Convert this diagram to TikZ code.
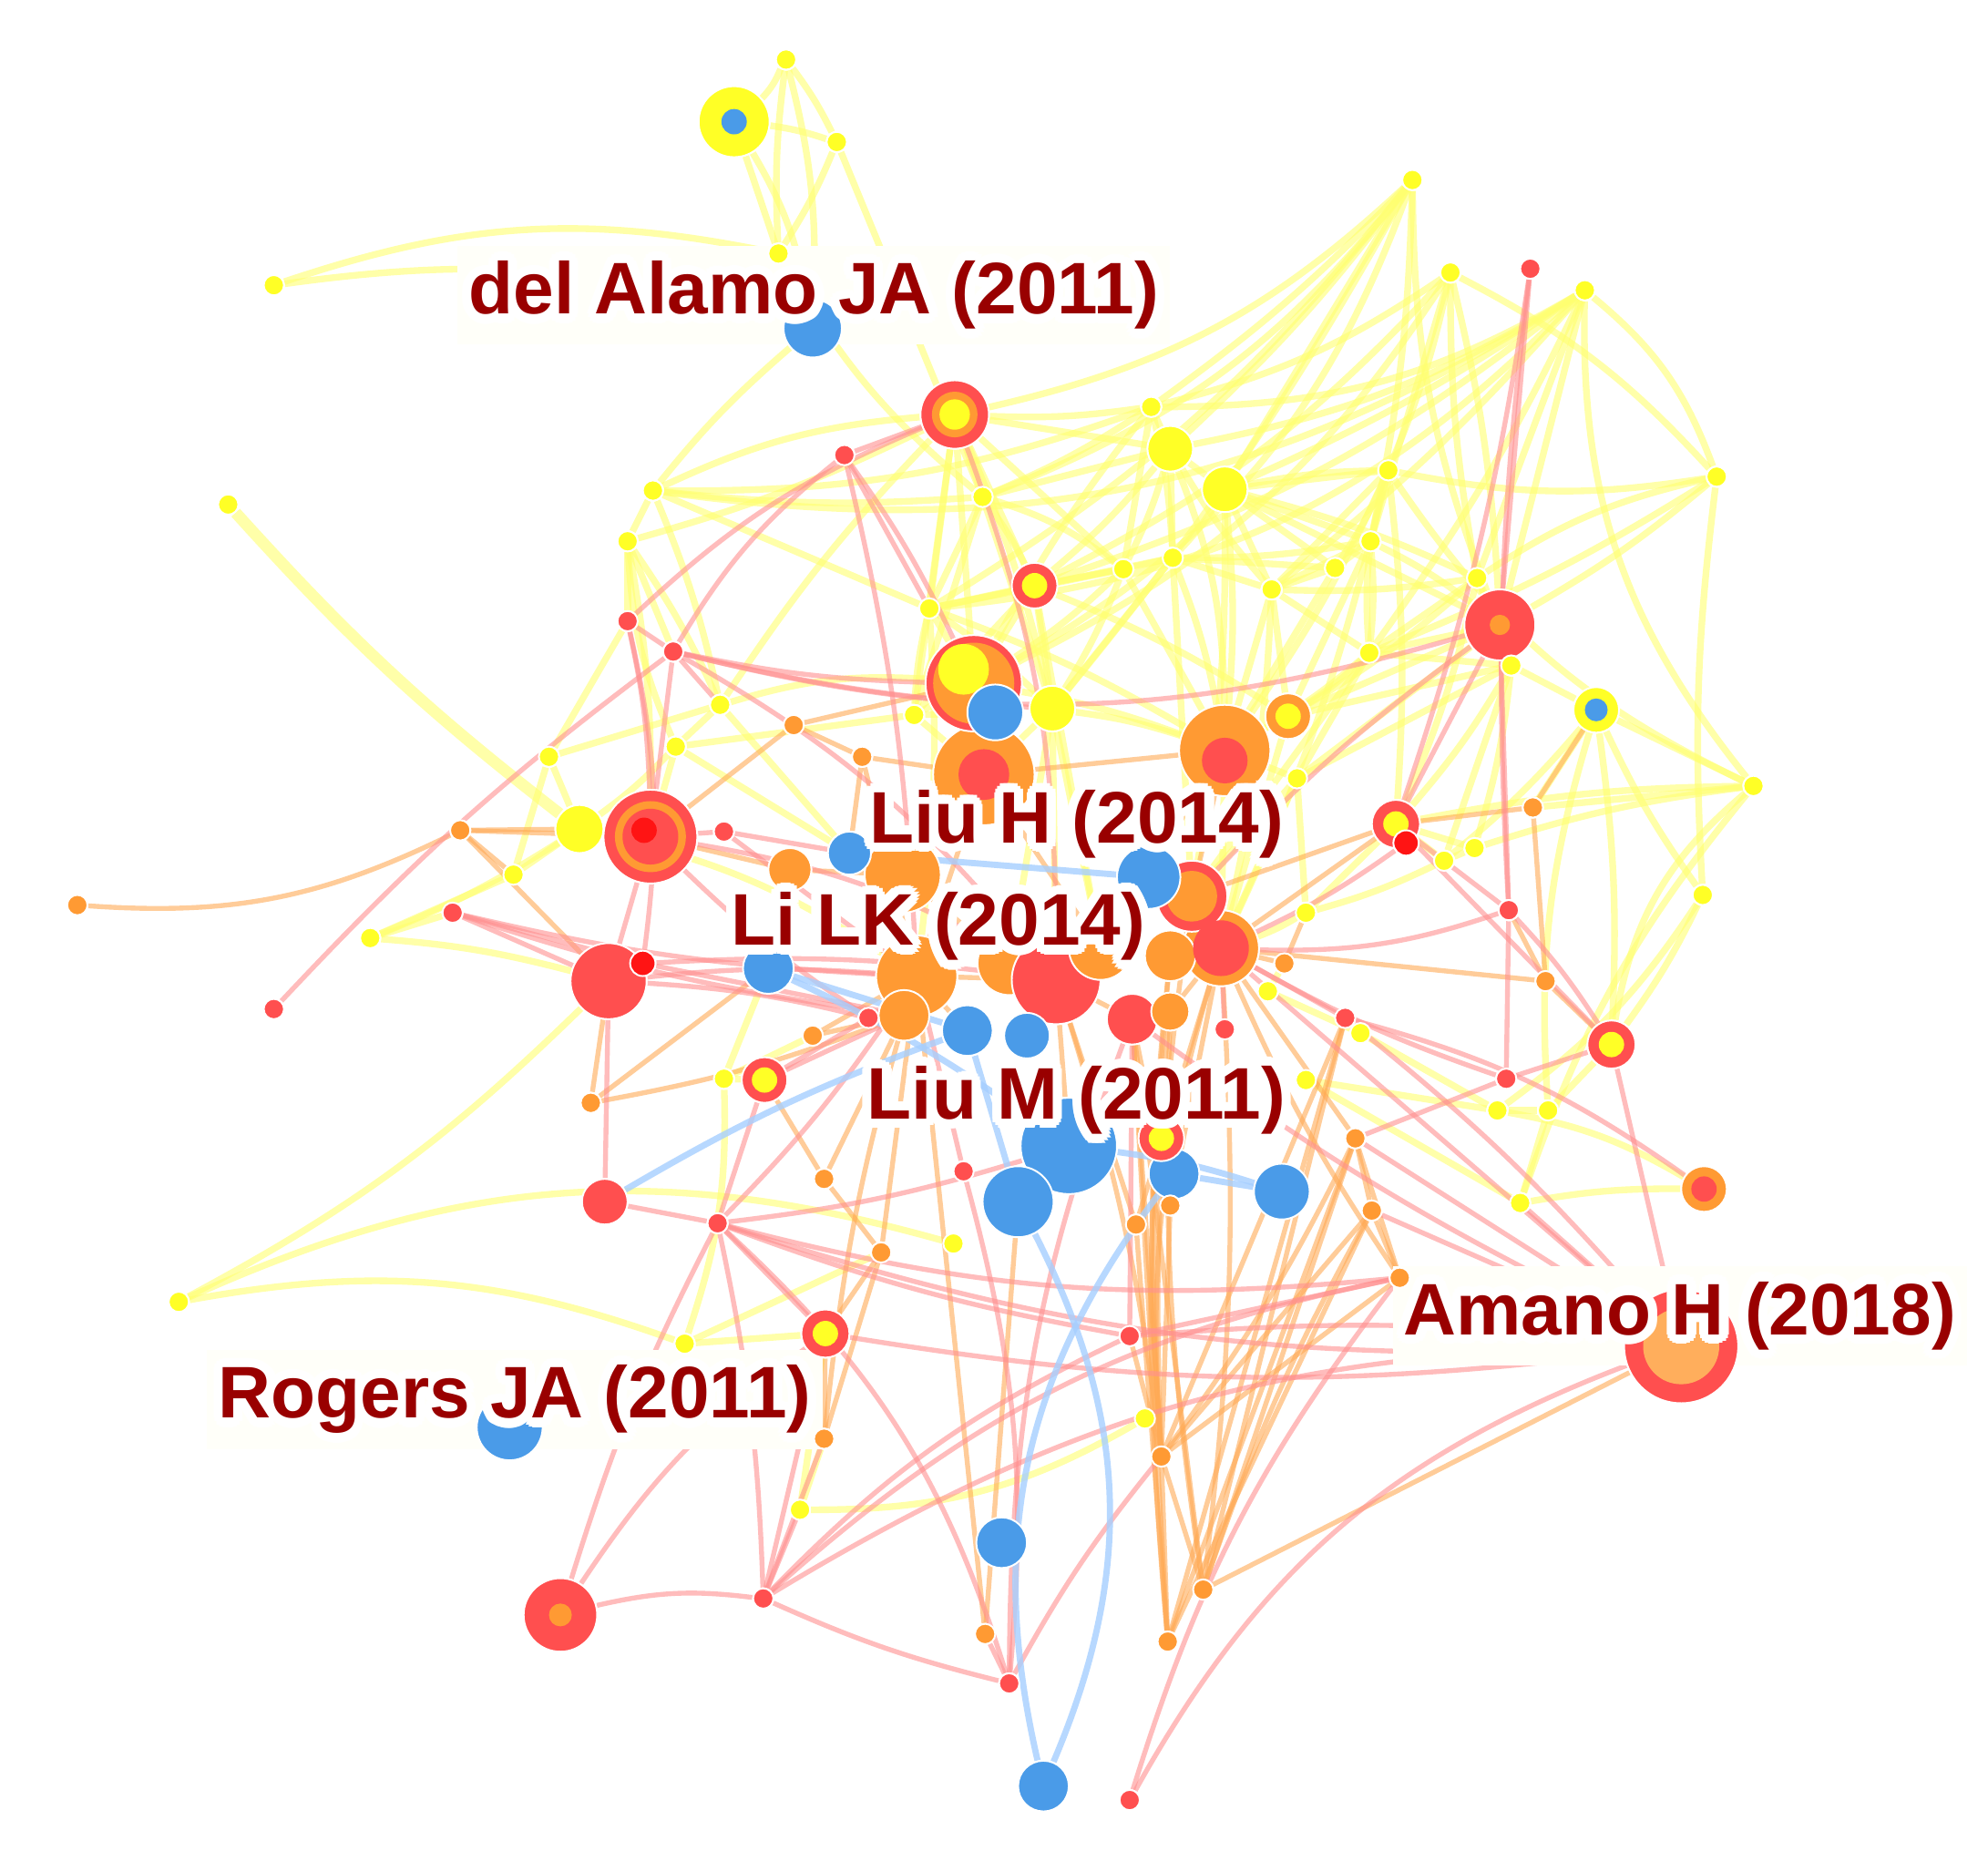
\documentclass[tikz,border=0pt]{standalone}
\usepackage{fontspec}
\setmainfont{Liberation Sans}
\newfontfamily\halofont[Color=FFFFFF]{Liberation Sans}
\newfontfamily\lblfont[Color=990000]{Liberation Sans}
\pgfdeclarelayer{edges}
\pgfsetlayers{edges,main}
\definecolor{Y}{HTML}{FFFF26}
\definecolor{R}{HTML}{FF4F4F}
\definecolor{RR}{HTML}{FF1414}
\definecolor{O}{HTML}{FF9A33}
\definecolor{B}{HTML}{4A9BE8}
\definecolor{EY}{HTML}{FFFF70}
\definecolor{ER}{HTML}{FF9090}
\definecolor{EO}{HTML}{FFAA55}
\definecolor{EB}{HTML}{A6CFFF}
\definecolor{lblbg}{HTML}{FFFFF9}
\newsavebox\halobox
\newcommand\halotext[1]{%
  \sbox\halobox{\halofont\bfseries #1}%
  \foreach \hr in {1,2.1}{%
  \foreach \hang in {0,22.5,...,337.5}{%
    \pgfmathsetlengthmacro\hx{\hr pt*cos(\hang)}%
    \pgfmathsetlengthmacro\hy{\hr pt*sin(\hang)}%
    \rlap{\hspace*{\hx}\raisebox{\hy}{\usebox\halobox}}%
  }}%
  {\lblfont\bfseries #1}%
}
\tikzset{
  dot/.style={circle,inner sep=0pt,draw=white,line width=0.4pt},
  ys/.style={dot,fill=Y,minimum size=1.6mm},
  rs/.style={dot,fill=R,minimum size=1.6mm},
  os/.style={dot,fill=O,minimum size=1.6mm},
  ye/.style={draw=EY,line width=1.5pt,opacity=0.6},
  re/.style={draw=ER,line width=1.1pt,opacity=0.6},
  oe/.style={draw=EO,line width=1.1pt,opacity=0.6},
  be/.style={draw=EB,line width=1.4pt,opacity=0.8},
  lab/.style={inner sep=0pt,font=\fontsize{16.4}{18}\selectfont}
}
\begin{document}
\begin{tikzpicture}[x=0.1mm,y=-0.1mm]
\useasboundingbox (0,0) rectangle (1568,1468);
\begin{pgfonlayer}{edges}
\fill[white] (0,0) rectangle (1568,1468);
\end{pgfonlayer}

% ---- central background cluster
\node[dot,fill=O,minimum size=8mm] (R18) at (776,611) {}; \fill[R] (R18.center) circle (2mm);
\node[dot,fill=R,minimum size=7.6mm] (R16) at (768,539) {}; \fill[O] (R16.center) circle (3.2mm); \fill[Y] (760,528) circle (2mm);
\node[dot,fill=O,minimum size=7.2mm] (R17) at (966,592) {}; \fill[R] (966,600) circle (1.8mm);
\foreach \n/\x/\y/\d/\c in {C13/712/690/60/O, C11/796/760/50/O, C1/723/770/64/O, C2/833/773/70/R, C3/868/748/50/O, C4/963/748/60/O, C5/923/754/40/O, C6/940/707/56/R, C7/713/801/40/O, C8/893/804/40/R, C9/923/798/30/O, C12/623/686/34/O}
  \node[dot,fill=\c,minimum size=\d*0.1mm] (\n) at (\x,\y) {};
\fill[R] (C4.center) circle (2.2mm);
\fill[O] (C6.center) circle (2mm);

% ---- blue nodes
\foreach \n/\x/\y/\d in {b1/641/259/46, b2/790/1217/40, b3/823/1409/40, b4/402/1126/52, b5/670/673/34, b6/606/764/40, b7/906/692/50, b8/763/813/40, b9/810/817/36, b10/843/904/76, b11/803/948/56, b12/926/926/40, b13/1011/940/44, b14/785/562/44}
  \node[dot,fill=B,minimum size=\d*0.1mm] (\n) at (\x,\y) {};

% ---- ringed nodes
\node[dot,fill=Y,minimum size=5.6mm] (R1) at (579,96) {}; \fill[B] (R1.center) circle (1mm);
\node[dot,fill=R,minimum size=5.4mm] (R2) at (753,327) {}; \fill[O] (R2.center) circle (1.8mm); \fill[Y] (R2.center) circle (1.2mm);
\node[dot,fill=R,minimum size=3.6mm] (R3) at (816,462) {}; \fill[Y] (R3.center) circle (1mm);
\node[dot,fill=R,minimum size=5.6mm] (R4) at (1183,493) {}; \fill[O] (R4.center) circle (0.8mm);
\node[dot,fill=Y,minimum size=3.6mm] (R5) at (1259,560) {}; \fill[B] (R5.center) circle (0.9mm);
\node[dot,fill=R,minimum size=3.8mm] (R6) at (1101,650) {}; \fill[Y] (R6.center) circle (1mm);
\node[dot,fill=R,minimum size=3.8mm] (R7) at (1271,824) {}; \fill[Y] (R7.center) circle (1mm);
\node[dot,fill=O,minimum size=3.6mm] (R8) at (1344,938) {}; \fill[R] (R8.center) circle (1mm);
\node[dot,fill=R,minimum size=3.8mm] (R9) at (651,1052) {}; \fill[Y] (R9.center) circle (1mm);
\node[dot,fill=R,minimum size=3.6mm] (R10) at (603,852) {}; \fill[Y] (R10.center) circle (1mm);
\node[dot,fill=R,minimum size=7.4mm] (R11) at (513,660) {}; \fill[O] (R11.center) circle (2.8mm); \fill[R] (R11.center) circle (2.2mm); \fill[RR] (508,655) circle (1mm);
\node[dot,fill=R,minimum size=6mm] (R12) at (480,774) {};
\node[dot,fill=R,minimum size=3.6mm] (R13) at (477,948) {};
\node[dot,fill=R,minimum size=5.8mm] (R14) at (442,1274) {}; \fill[O] (R14.center) circle (0.9mm);
\node[dot,fill=R,minimum size=9mm] (R15) at (1326,1062) {}; \fill[O!80] (R15.center) circle (3mm);
\node[dot,fill=O,minimum size=3.6mm] (R19) at (1016,565) {}; \fill[Y] (R19.center) circle (1mm);
\node[dot,fill=R,minimum size=3.6mm] (C10) at (916,898) {}; \fill[Y] (C10.center) circle (1mm);

% ---- big yellow
\foreach \n/\x/\y/\d in {Y1/923/354/36, Y2/966/386/36, Y3/457/654/38, Y4/830/559/36}
  \node[dot,fill=Y,minimum size=\d*0.1mm] (\n) at (\x,\y) {};

% ---- small nodes
\foreach \n/\x/\y in {y1/620/47, y2/660/112, y3/614/200, y4/216/225, y5/180/398, y6/515/387, y7/495/427, y8/1114/142, y9/1144/215, y10/1250/229, y11/908/321, y12/1354/376, y13/1095/371, y14/1081/427, y15/1053/448, y16/1165/456, y17/775/392, y18/925/440, y19/886/449, y20/1003/465, y21/733/480, y22/1080/515, y23/1192/525, y24/1383/620, y25/1163/669, y26/1139/679, y27/1343/706, y28/1073/815, y29/1181/876, y30/1221/876, y31/1199/949, y32/433/597, y33/405/690, y34/292/740, y35/141/1027, y36/540/1060, y37/631/1191, y38/903/1119, y39/752/981, y40/568/556, y41/533/589, y42/721/564, y43/571/851, y44/1000/782, y45/1030/720, y46/1030/852, y47/1023/614}
  \node[ys] (\n) at (\x,\y) {};
\foreach \n/\x/\y in {r1/666/359, r2/1207/212, r3/495/490, r4/531/514, r5/571/656, r6/357/720, r7/216/796, r9/1190/718, r10/1188/851, r11/1061/803, r12/566/965, r13/891/1054, r14/602/1261, r15/796/1328, r16/891/1420, r17/685/803, r18/966/812, r19/760/924}
  \node[rs] (\n) at (\x,\y) {};
\node[dot,fill=RR,minimum size=2mm] (r8) at (507,760) {};
\node[dot,fill=RR,minimum size=2mm] (r20) at (1109,665) {};
\foreach \n/\x/\y in {o1/61/714, o2/363/655, o3/466/870, o4/1209/637, o5/1219/774, o6/1104/1008, o7/1069/898, o8/1082/955, o9/650/1135, o10/916/1149, o11/949/1254, o12/921/1295, o13/777/1289, o14/695/988, o15/650/930, o16/626/572, o17/680/597, o18/641/817, o19/1013/760, o20/923/951, o21/896/966}
  \node[os] (\n) at (\x,\y) {};

% ---- labels
\node[lab] (LA) at (642,233) {\halotext{del Alamo JA (2011)}};
\node[lab] (LB) at (849,650) {\halotext{Liu H (2014)}};
\node[lab] (LC) at (740,731) {\halotext{Li LK (2014)}};
\node[lab] (LD) at (849,868) {\halotext{Liu M (2011)}};
\node[lab] (LE) at (1325,1038) {\halotext{Amano H (2018)}};
\node[lab] (LF) at (406,1104) {\halotext{Rogers JA (2011)}};

% ---- edges
\begin{pgfonlayer}{edges}
\foreach \a/\b/\c in {
y1/R1/10, y1/y3/-5, y1/y2/5, y1/b1/8, y2/R1/-5, y2/y17/0, y2/y3/5, R1/y3/0, R1/b1/10, y3/b1/0, y3/y17/-10, y4/y3/15, y4/b1/12,
y6/y7/0, y6/R2/10, y6/y17/-5, y6/y11/-10, y6/b1/5, y6/y40/5, y6/y21/0, y7/R2/-5, y7/r4/0,
y7/y40/5, y7/R11/5, y7/r3/0, y7/y41/-10,
y8/R2/15, y8/y11/5, y8/R4/-10, y8/y21/10, y8/y17/15, y8/Y4/5, y8/y14/5, y8/R16/20, y8/Y1/5, y8/Y2/0,
y9/y12/10, y9/y16/-5, y9/y13/5, y9/R3/10, y9/R16/15, y9/R4/5, y9/y14/0, y9/y11/10,
y10/y11/15, y10/R3/10, y10/y20/5, y10/y24/-20, y10/Y1/10, y10/y21/20, y10/y16/0, y10/y6/20, y10/Y2/5, y10/R4/0, y10/y22/5,
y11/Y1/0, y11/R2/5, y11/y18/5, y11/R16/-5, y11/y19/0, y11/y17/5,
y12/y16/-10, y12/y27/-5, y12/y13/10, y12/y10/-15, y12/R4/5, y12/y22/5,
y13/y14/0, y13/y15/5, y13/Y2/-5, y13/y22/-10, y13/R17/5, y13/y20/0, y13/R6/5,
y14/y15/0, y14/y22/5, y14/y18/5, y14/R4/5, y14/C4/5, y14/R19/0,
y16/R4/0, y16/y22/0, y16/y20/5, y16/R19/5, y16/y23/0, y16/R6/5,
y17/R2/0, y17/R3/5, y17/y21/0, y17/y19/10, y17/Y4/0, y17/y42/0, Y1/y17/0, Y1/R2/0,
Y1/Y2/0, Y1/y18/0, Y1/y19/5, Y1/R3/5, Y1/y20/-5, Y1/R17/10,
Y2/y20/0, Y2/y15/0, Y2/R17/5, Y2/y18/5, Y2/C6/5, Y2/y13/0, Y2/y14/0, Y2/y16/5, Y2/R4/0,
y18/y19/0, y18/y20/0, y18/R17/5, y18/C6/0, y19/R3/0, y19/Y4/5, y19/R16/5, y18/y21/0, y18/Y4/0, y19/y21/0,
y20/y22/0, y20/R17/0, y20/R19/0, y20/C4/5, y20/y14/0, y20/y15/0, y15/y18/0, y15/R17/0,
y21/R16/0, y21/R3/0, y21/Y4/5, y21/y42/-5, y21/C1/5, y21/R17/5, y19/R17/0,
y22/R4/0, y22/R19/5, y22/y23/0, y22/R17/5, y22/y47/0, y23/y47/0, y22/C6/0,
y23/R5/0, y23/R6/5, y23/y25/5, y23/y26/0,
R4/R19/0, R4/y47/0, R2/y21/0, R2/y19/0, R2/y42/0, R3/R16/0, R3/y42/0,
Y4/C11/0, Y4/C3/0, R17/C4/0, R19/C4/0, y47/C4/0,
y24/R5/0, y24/y25/-5, y24/R7/-20, y24/o4/0, y24/R6/-5, y24/y13/15, y24/y31/-10,
y27/R7/5, y27/R5/5, y27/y29/10,
R5/R7/5, R5/y26/5, R5/o4/0, R5/y30/-10,
y25/y26/0, y25/R6/0, y26/R6/0, y26/y45/5,
Y3/y32/0, Y3/y33/0, Y3/R11/0, Y3/y34/5, Y3/y41/-5, Y3/C1/10,
y32/y40/0, y32/y33/0, y33/y34/0, y34/R12/5, y34/r6/0, y32/r3/0,
y35/y39/20, y35/y36/15, y35/R12/-8,
y36/o14/0, y36/R9/0, y36/y43/-10,
y37/R9/0, y37/y38/-15, y37/o9/0,
y40/y41/0, y40/R16/10, y41/b5/0, y41/R11/0, y41/y42/0, y40/b5/0, y40/R2/5,
y42/R16/0, y42/R18/0, y42/b14/0,
y43/R10/0, y43/o18/0, y43/b6/0,
y44/o19/0, y44/y28/0, y45/R6/0, y46/y29/0, y46/y31/0, y45/C4/5,
y28/y29/0, y29/y30/0, y30/R7/0, y30/y31/0, y31/R8/5, y29/R8/10,
Y4/C2/0, R3/C3/0, y47/R17/0, y47/C6/0, y47/y45/0, R2/R3/0, R2/Y4/5, R2/R16/0, R3/Y4/0, R3/R19/5, Y4/R18/0, Y4/R17/5, R16/R17/5, R19/R17/0, R19/y23/0}
  \draw[ye] (\a) to[bend left=\c] (\b);
\draw[ye,line width=2.6pt] (y5) to[bend left=-5] (Y3);
\foreach \a/\b/\c in {
o1/o2/-15, o2/Y3/0, o2/R11/0, o2/R12/0, o2/y33/0,
o3/b6/0, o3/R12/0, o3/C7/-5,
o4/R6/0, o4/R5/0,
o5/C4/0, o5/o4/0, o5/r9/0, o5/R7/0,
o6/C4/5, o6/o8/0, o6/R15/0, o6/o7/0,
o7/C4/0, o7/o8/0,
o9/R9/0, o9/o14/0, o9/C1/5,
o10/C8/0, o10/C9/5, o10/C2/-5, o10/C4/10, o10/o20/0, o10/o7/-5, o10/o12/0, o10/o11/0, o10/r13/0, o10/C5/5, o10/C6/5, o10/o8/0, o10/o6/0, o10/r11/0,
o11/C4/-5, o11/o8/5, o11/C9/5, o11/r11/0, o11/o7/0, o11/C8/0, o11/R15/0,
o12/C8/0, o12/o21/0, o12/C5/5, o12/o7/0, o12/o8/0, o12/r11/0,
o21/C4/0, o20/C4/0,
o13/C1/0, o13/b11/0,
o14/C1/0, o14/R9/0, o14/o15/0,
o15/C7/0, o15/R10/0,
o16/R11/0, o16/R16/0, o16/o17/0,
o17/R18/0, o17/C1/0, o17/b5/0,
o18/C7/0, o18/C1/0,
o19/C4/0, o19/y45/0,
o20/C8/0, o20/b12/0, o21/C2/0,
C1/C2/0, C2/C3/0, C3/C5/0, C5/C4/0, C4/C6/0, C6/b7/0, C7/C1/0, C8/C9/0, C2/C8/0, C1/b8/0, C2/b10/0, C9/C4/0, C1/R18/0, R18/C3/0, R16/R18/0, R17/C6/0, R17/R18/0, C6/R6/0, C4/R6/0, C3/R17/0, C13/C11/0, C12/C13/0, C12/R11/0, C11/C2/0, C13/R18/0}
  \draw[oe] (\a) to[bend left=\c] (\b);
\foreach \a/\b/\c in {
r1/R2/0, r1/R16/5, r1/y21/0, r1/r4/-10, r1/C1/5,
r2/r9/-5, r2/R4/0, r2/R6/5,
r3/r4/0, r3/R11/5, r3/r8/10,
r4/R11/0, r4/r7/-5, r4/R16/-5, r4/Y4/-5, r4/C2/10, r4/R4/-15, r4/y40/0,
r5/R11/0, r5/b5/0, r5/C1/0,
r6/R12/0, r6/C1/-5, r6/r8/0, r6/C7/-5,
R12/r8/0, R12/C1/5, R12/r17/5, R12/R13/0,
r8/C7/0, r8/C2/5,
r9/R6/0, r9/R7/5, r9/r10/0, r9/C4/10,
r10/R7/0, r10/C4/5, r10/o7/0,
r11/C4/0, r11/R8/10, r11/R15/5,
r12/r14/5, r12/R9/0, r12/o6/-10, r12/C1/-5, r12/r13/-5, r12/R13/0, r12/b10/-5,
r13/o6/0, r13/r14/-10, r13/C8/0,
r14/R14/-10, r14/r15/-5, r14/o6/15, r14/y37/0, r14/R15/15, r14/R9/0, r14/o9/0,
r15/o13/0, r15/r19/-10, r15/C8/10, r15/r12/-15, r15/o10/5,
r16/R15/20, r16/o6/10,
r17/R11/5, r18/C4/0, r19/C1/0,
R14/R9/10, R14/r12/5,
R10/r17/0, R10/C7/0, R10/r12/0,
R2/C2/10, R2/r3/-10,
R11/C2/10, R11/R12/0,
R4/R6/0, R4/C6/-5, R4/r9/0,
R6/R7/0, r20/R6/0, r20/C4/5,
R15/r13/-5, R15/r12/10, R15/o7/0, R15/o8/0, R15/C4/0, R15/R9/8, R15/C8/5, R15/R7/0, R15/y31/0}
  \draw[re] (\a) to[bend left=\c] (\b);
\foreach \a/\b/\c in {b3/b11/-25, b3/b12/25, b11/b10/0, b12/b13/0, b6/b8/0, R13/b8/5, b6/b10/5, b8/b11/0, b5/b7/0, b10/b13/5}
  \draw[be] (\a) to[bend left=\c] (\b);
% pale label boxes above the connectors, below the nodes
\foreach \L in {LA,LE,LF}
  \fill[lblbg] ([xshift=-0.8mm,yshift=-0.4mm]\L.south west) rectangle ([xshift=0.8mm,yshift=0.4mm]\L.north east);
\end{pgfonlayer}
\end{tikzpicture}
\end{document}
